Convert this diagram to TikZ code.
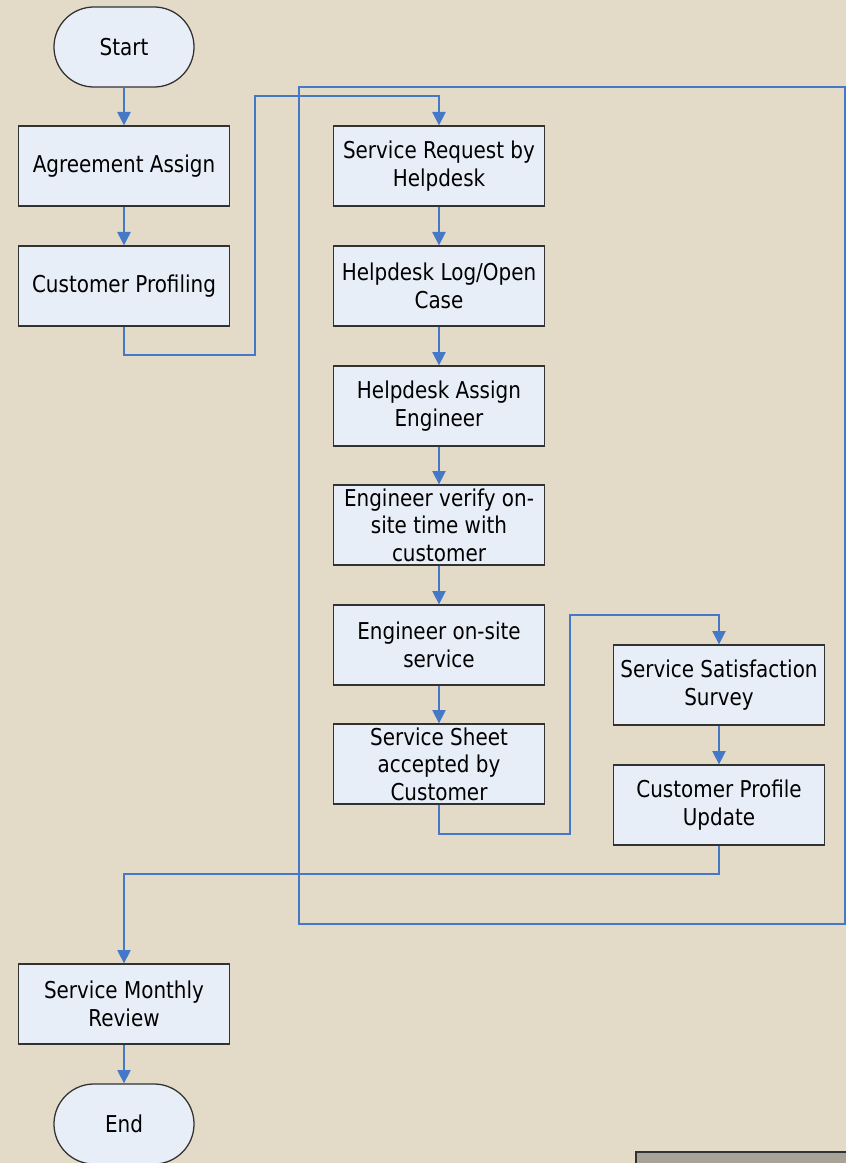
\documentclass[tikz,border=0pt]{standalone}
\usepackage{fontspec}
\setmainfont{DejaVu Sans}[FakeStretch=0.86]
\usepackage{xcolor}
\usetikzlibrary{arrows.meta}
\definecolor{paper}{RGB}{227,218,200}
\definecolor{boxfill}{RGB}{232,238,248}
\definecolor{boxline}{RGB}{50,50,50}
\definecolor{flowblue}{RGB}{70,120,200}
\definecolor{panel}{RGB}{168,163,152}
\tikzset{
    proc/.style={draw=boxline, fill=boxfill, line width=0.9pt, minimum width=5.275cm, minimum height=2cm, align=center, inner sep=2pt, font=\fontsize{16.5}{19.5}\selectfont},
    term/.style={proc, minimum width=3.5cm, rounded corners=1cm},
    flow/.style={draw=flowblue, line width=0.9pt, -{Triangle[length=9.5pt,width=9.5pt]}},
    loopline/.style={draw=flowblue, line width=0.9pt}
}
\begin{document}
\begin{tikzpicture}[x=0.025cm,y=-0.025cm]
\fill[paper] (0,0) rectangle (846,1163);
\useasboundingbox (0,0) rectangle (846,1163);
% outer loop
\draw[loopline] (299,87) rectangle (845,924);
% left column
\node[term] (start) at (124,47) {Start};
\node[proc] (agree) at (124,166) {Agreement Assign};
\node[proc] (prof) at (124,286) {Customer Profiling};
\node[proc] (review) at (124,1004) {Service Monthly\\Review};
\node[term] (end) at (124,1124) {End};
% middle column
\node[proc] (req) at (439,166) {Service Request by\\Helpdesk};
\node[proc] (log) at (439,286) {Helpdesk Log/Open\\Case};
\node[proc] (assign) at (439,406) {Helpdesk Assign\\Engineer};
\node[proc] (verify) at (439,525) {Engineer verify on-\\site time with\\customer};
\node[proc] (onsite) at (439,645) {Engineer on-site\\service};
\node[proc] (sheet) at (439,764) {Service Sheet\\accepted by\\Customer};
% right column
\node[proc] (survey) at (719,685) {Service Satisfaction\\Survey};
\node[proc] (update) at (719,805) {Customer Profile\\Update};
% bends
\coordinate (k1) at (255,355);
\coordinate (k2) at (255,96);
\coordinate (k3) at (570,834);
\coordinate (k4) at (570,615);
\coordinate (k5) at (719,874);
\draw[flow] (start) -- (agree);
\draw[flow] (agree) -- (prof);
\draw[flow] (prof.south) |- (k1) -- (k2) -| (req.north);
\draw[flow] (req) -- (log);
\draw[flow] (log) -- (assign);
\draw[flow] (assign) -- (verify);
\draw[flow] (verify) -- (onsite);
\draw[flow] (onsite) -- (sheet);
\draw[flow] (sheet.south) |- (k3) -- (k4) -| (survey.north);
\draw[flow] (survey) -- (update);
\draw[flow] (update.south) -- (k5) -| (review.north);
\draw[flow] (review) -- (end);
% corner panel
\filldraw[fill=panel, draw=boxline, line width=1pt] (636,1170) -- (636,1152) -- (850,1152) -- (850,1170);
\end{tikzpicture}
\end{document}
